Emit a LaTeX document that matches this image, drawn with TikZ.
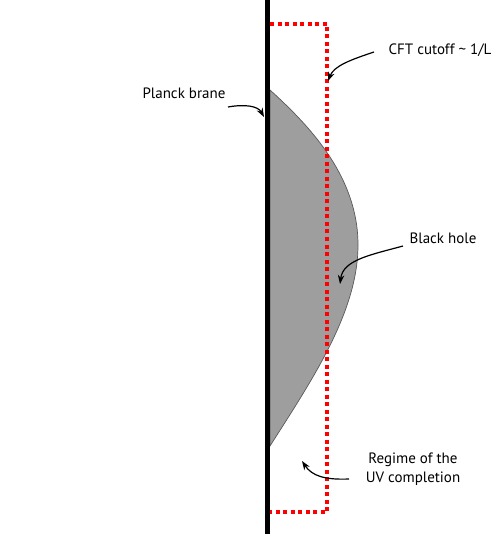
\documentclass[tikz,border=0pt]{standalone}
\usepackage{fontspec}
\setmainfont{PT Sans}
\usetikzlibrary{arrows.meta}
\begin{document}
\begin{tikzpicture}[x=1pt,y=-1pt,
  lbl/.style={font=\fontsize{15}{19.5}\selectfont, align=center, inner sep=0pt},
  pointer/.style={line width=1.2pt, -{Stealth[length=9pt,width=6.5pt]}},
  cutoff/.style={red, line width=3.2pt, dash pattern=on 4pt off 3.5pt}]
\useasboundingbox (0,0) rectangle (494,534);
% black hole
\path[fill=black!38, draw=black!65, line width=0.7pt]
  (270,90) .. controls (312,128) and (358,178) .. (358,245)
  .. controls (358,312) and (312,380) .. (270,446) -- cycle;
% red dotted region
\draw[cutoff] (270,24) -- (327,24) -- (327,512) -- (270,512);
% Planck brane
\draw[line width=5pt] (267,0) -- (267,534);
% labels
\node[lbl] (cft) at (440,50) {CFT cutoff \char`~\ 1/L};
\node[lbl] (pb) at (184,93) {Planck brane};
\node[lbl] (bh) at (443,238) {Black hole};
\node[lbl] (uv) at (413,469) {Regime of the\\UV completion};
\coordinate (cftend) at (328,81);
\coordinate (pbend) at (264,117);
\coordinate (bhend) at (340,284);
\coordinate (uvend) at (302,461);
\coordinate (cfts) at (374,52);
\coordinate (pbs) at (228,107);
\coordinate (bhs) at (403,246);
\coordinate (uvs) at (349,479);
\draw[pointer] (cfts) .. controls (350,60) and (334,66) .. (cftend);
\draw[pointer] (pbs) .. controls (245,104) and (258,106) .. (pbend);
\draw[pointer] (bhs) .. controls (370,255) and (343,260) .. (bhend);
\draw[pointer] (uvs) .. controls (325,480) and (312,476) .. (uvend);
\end{tikzpicture}
\end{document}
